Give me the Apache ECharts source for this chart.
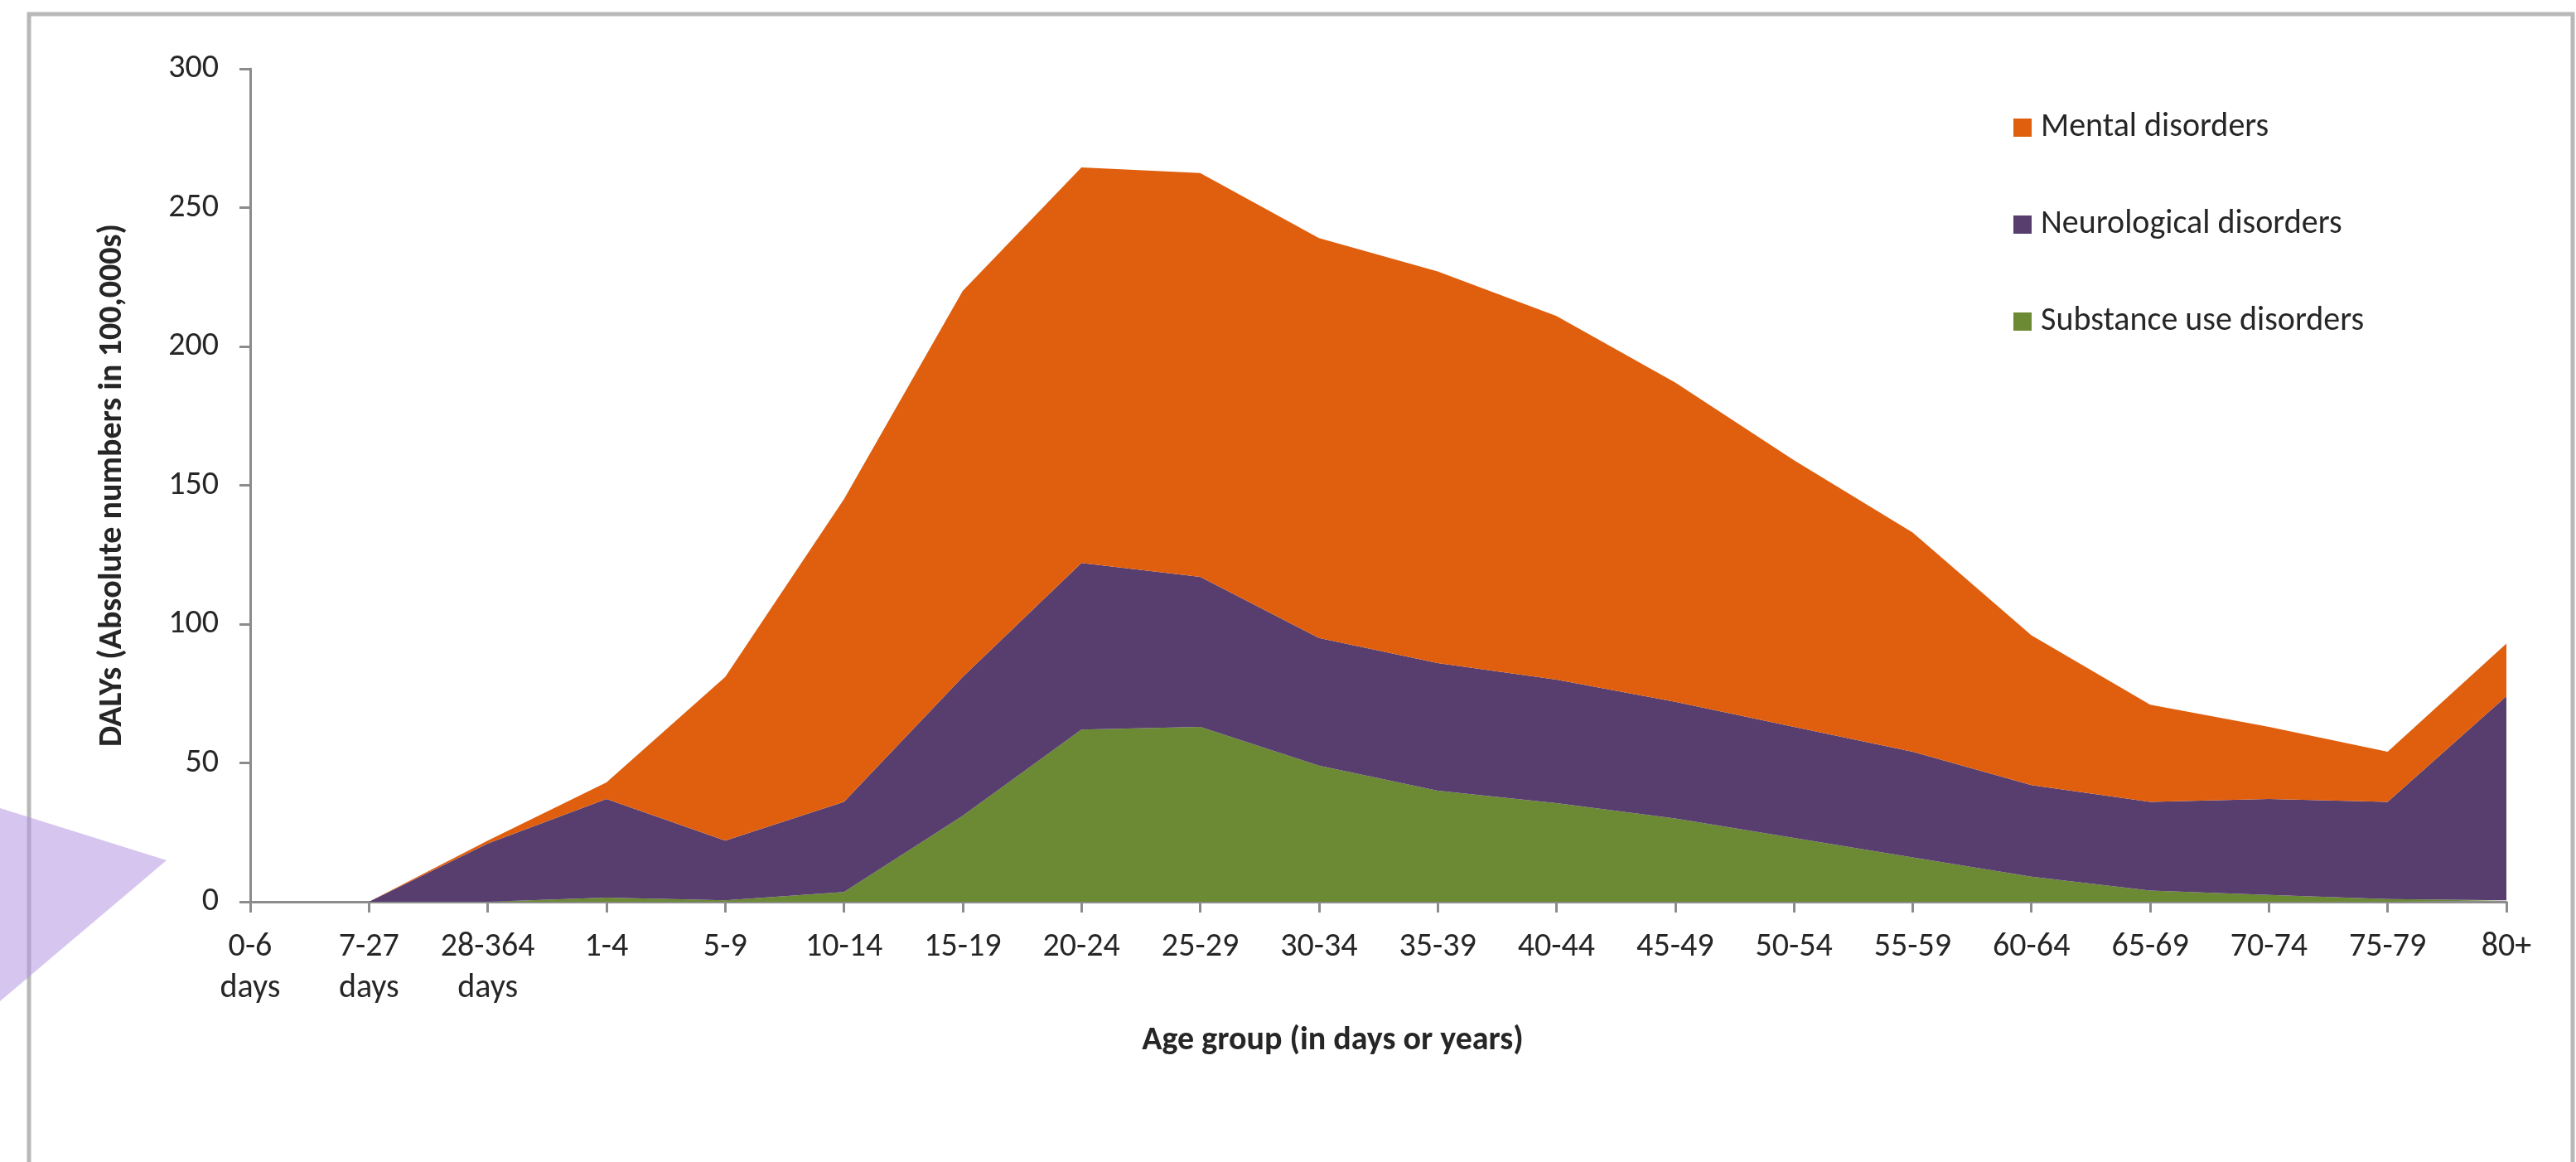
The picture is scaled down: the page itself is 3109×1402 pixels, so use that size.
<!DOCTYPE html>
<html>
<head>
<meta charset="utf-8">
<script src="https://cdn.jsdelivr.net/npm/echarts@6/dist/echarts.min.js"></script>
<style>
  html, body { margin: 0; padding: 0; background: #ffffff; }
  #chart { width: 3109px; height: 1402px; }
</style>
</head>
<body>
<div id="chart"></div>
<script>
// Age groups on the x axis
const ageGroups = ['0-6\ndays', '7-27\ndays', '28-364\ndays', '1-4', '5-9', '10-14', '15-19', '20-24', '25-29',
  '30-34', '35-39', '40-44', '45-49', '50-54', '55-59', '60-64', '65-69', '70-74', '75-79', '80+'];

// DALYs (absolute numbers in 100,000s), stacked from the bottom up
const substanceUse = [0, 0, 0, 1.5, 0.5, 3.5, 31, 62, 63, 49, 40, 35.5, 30, 23, 16, 9, 4, 2.5, 1, 0.5];
const neurological = [0, 0, 21, 35.5, 21.5, 32.5, 50, 60, 54, 46, 46, 44.5, 42, 40, 38, 33, 32, 34.5, 35, 73.5];
const mental = [0, 0, 1, 6, 59, 109, 139, 142.5, 145.5, 144, 141, 131, 115, 96, 79, 54, 35, 26, 18, 19];

const yTicks = { min: 0, max: 300, interval: 50 };

const FONT = 'Carlito, "Liberation Sans Narrow", "Open Sans", sans-serif';
const TEXT = '#262626';
const AXIS = '#8c8c8c';

const chart = echarts.init(document.getElementById('chart'), null, { renderer: 'canvas' });

function areaSeries(name, data, color) {
  return {
    name: name,
    type: 'line',
    stack: 'dalys',
    data: data,
    showSymbol: false,
    symbol: 'none',
    lineStyle: { width: 0, color: color },
    itemStyle: { color: color },
    areaStyle: { color: color, opacity: 1 },
    emphasis: { disabled: true },
    animation: false
  };
}

chart.setOption({
  animation: false,
  backgroundColor: '#ffffff',
  textStyle: { fontFamily: FONT },
  grid: { left: 302, right: 84, top: 83, bottom: 314, containLabel: false },
  legend: {
    orient: 'vertical',
    left: 2425,
    top: 128,
    itemWidth: 22,
    itemHeight: 22,
    itemGap: 75,
    icon: 'rect',
    data: ['Mental disorders', 'Neurological disorders', 'Substance use disorders'],
    textStyle: { fontFamily: FONT, fontSize: 40, color: TEXT, padding: [0, 0, 0, 6], lineHeight: 42 }
  },
  xAxis: {
    type: 'category',
    data: ageGroups,
    boundaryGap: false,
    name: 'Age group (in days or years)',
    nameLocation: 'middle',
    nameGap: 148,
    nameTextStyle: { fontFamily: FONT, fontSize: 40, fontWeight: 'bold', color: TEXT, padding: [0, 110, 0, 0] },
    axisLine: { lineStyle: { color: AXIS, width: 3 } },
    axisTick: { show: true, length: 13, alignWithLabel: true, lineStyle: { color: AXIS, width: 3 } },
    axisLabel: { interval: 0, margin: 30, fontFamily: FONT, fontSize: 40, color: TEXT, lineHeight: 50 },
    splitLine: { show: false }
  },
  yAxis: {
    type: 'value',
    min: yTicks.min,
    max: yTicks.max,
    interval: yTicks.interval,
    name: 'DALYs (Absolute numbers in 100,000s)',
    nameLocation: 'middle',
    nameGap: 146,
    nameTextStyle: { fontFamily: FONT, fontSize: 40, fontWeight: 'bold', color: TEXT },
    axisLine: { show: true, lineStyle: { color: AXIS, width: 3 } },
    axisTick: { show: true, length: 13, lineStyle: { color: AXIS, width: 3 } },
    axisLabel: { margin: 38, fontFamily: FONT, fontSize: 40, color: TEXT },
    splitLine: { show: false }
  },
  series: [
    areaSeries('Substance use disorders', substanceUse, '#6B8A33'),
    areaSeries('Neurological disorders', neurological, '#573E6F'),
    areaSeries('Mental disorders', mental, '#E05F0E')
  ],
  graphic: [
    {
      // frame around the figure
      type: 'rect',
      z: 100,
      silent: true,
      shape: { x: 35, y: 17, width: 3070, height: 1420 },
      style: { fill: 'none', stroke: '#b8b8b8', lineWidth: 5 }
    },
    {
      // lavender pointer in the lower-left corner
      type: 'polygon',
      z: 101,
      silent: true,
      shape: { points: [[0, 975], [201, 1038], [0, 1208]] },
      style: { fill: 'rgba(180, 150, 225, 0.55)' }
    }
  ]
});
</script>
</body>
</html>
